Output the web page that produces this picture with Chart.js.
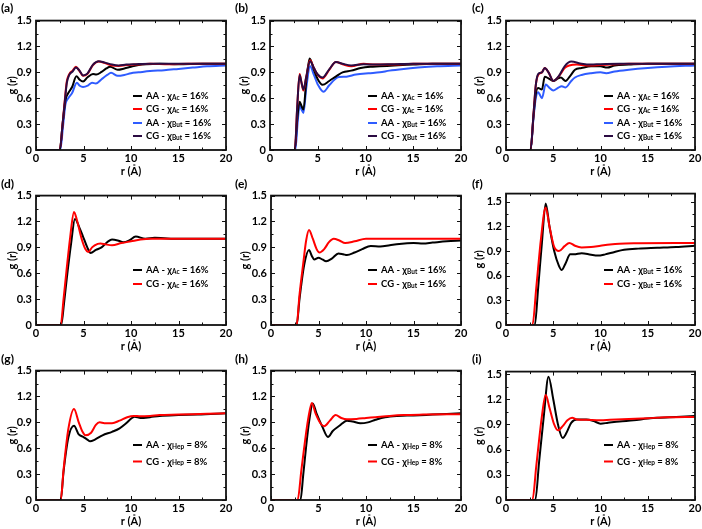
<!DOCTYPE html>
<html><head><meta charset="utf-8">
<script src="https://cdn.jsdelivr.net/npm/chart.js@4.4.1/dist/chart.umd.min.js"></script>
<style>
html,body{margin:0;padding:0;background:#fff;overflow:hidden;width:702px;height:529px}
#wrap{position:relative;width:702px;height:529px;overflow:hidden}
canvas{position:absolute}
.pl{position:absolute;font:bold 12px Lato,"Open Sans",sans-serif;line-height:12px;color:#000;white-space:nowrap}
</style></head><body><div id="wrap"></div>
<script>
// ---- axis ticks ----
const xTicks = [0, 5, 10, 15, 20];
const yTicks = [0, 0.3, 0.6, 0.9, 1.2, 1.5];
const panelLabels = ['(a)','(b)','(c)','(d)','(e)','(f)','(g)','(h)','(i)'];

// ---- panel (a) ----
const a_AAAc_r = [0, 2.5, 2.8, 3.1, 3.4, 3.8, 4.25, 4.6, 4.95, 5.4, 6.0, 6.35, 6.9, 7.4, 7.8, 8.6, 9.3, 10.0, 10.8, 11.6, 13, 15, 17.5, 20];
const a_AAAc_g = [0, 0, 0.3, 0.58, 0.66, 0.73, 0.855, 0.815, 0.795, 0.84, 0.88, 0.875, 0.905, 0.945, 0.965, 0.93, 0.945, 0.965, 0.985, 0.995, 1.0, 0.995, 1.0, 1.0];
const a_CGAc_r = [0, 2.5, 2.8, 3.05, 3.25, 3.5, 3.85, 4.2, 4.55, 4.95, 5.4, 6.0, 6.6, 7.2, 8.0, 8.7, 9.5, 10.5, 12, 14, 16, 18, 20];
const a_CGAc_g = [0, 0, 0.3, 0.6, 0.8, 0.88, 0.92, 0.965, 0.92, 0.86, 0.88, 0.985, 1.025, 1.01, 0.98, 0.975, 0.985, 0.99, 1.0, 0.995, 1.0, 1.0, 1.0];
const a_AABut_r = [0, 2.55, 2.85, 3.1, 3.4, 3.8, 4.3, 4.6, 4.95, 5.5, 5.9, 6.3, 6.9, 7.5, 7.9, 8.6, 9.3, 10.0, 10.8, 12, 13.5, 15, 16.5, 18, 20];
const a_AABut_g = [0, 0, 0.28, 0.53, 0.6, 0.66, 0.78, 0.745, 0.73, 0.75, 0.78, 0.77, 0.82, 0.87, 0.895, 0.86, 0.87, 0.89, 0.9, 0.915, 0.925, 0.94, 0.955, 0.97, 0.98];
const a_CGBut_r = [0, 2.5, 2.8, 3.05, 3.25, 3.5, 3.85, 4.2, 4.55, 4.95, 5.4, 6.0, 6.6, 7.2, 8.0, 8.7, 9.5, 10.5, 12, 14, 16, 18, 20];
const a_CGBut_g = [0, 0, 0.3, 0.58, 0.78, 0.87, 0.91, 0.955, 0.925, 0.865, 0.885, 0.99, 1.03, 1.015, 0.99, 0.98, 0.99, 0.995, 1.0, 1.0, 1.0, 1.0, 1.0];

// ---- panel (b) ----
const b_AAAc_r = [0, 2.6, 2.85, 3.1, 3.3, 3.5, 3.8, 4.15, 4.6, 5.0, 5.5, 6.2, 7.0, 7.6, 8.5, 9.5, 10.5, 11.5, 13, 15, 17, 20];
const b_AAAc_g = [0, 0, 0.35, 0.56, 0.51, 0.47, 0.8, 1.06, 0.93, 0.82, 0.755, 0.8, 0.86, 0.9, 0.92, 0.95, 0.965, 0.97, 0.98, 0.99, 1.0, 1.0];
const b_CGAc_r = [0, 2.6, 2.85, 3.1, 3.3, 3.5, 3.8, 4.2, 4.6, 5.0, 5.5, 6.2, 6.9, 7.6, 8.5, 9.8, 11, 13, 15, 20];
const b_CGAc_g = [0, 0, 0.5, 0.88, 0.78, 0.69, 0.85, 1.04, 0.95, 0.87, 0.83, 0.93, 1.02, 0.995, 0.97, 1.0, 0.99, 0.99, 1.0, 1.0];
const b_AABut_r = [0, 2.65, 2.9, 3.1, 3.3, 3.5, 3.8, 4.2, 4.6, 5.0, 5.6, 6.2, 6.8, 7.2, 8.0, 9.0, 10.3, 11.5, 12.5, 14, 15.5, 17.5, 20];
const b_AABut_g = [0, 0, 0.33, 0.52, 0.47, 0.43, 0.72, 0.97, 0.87, 0.76, 0.675, 0.75, 0.82, 0.845, 0.85, 0.875, 0.89, 0.9, 0.92, 0.94, 0.955, 0.97, 0.98];
const b_CGBut_r = [0, 2.6, 2.85, 3.1, 3.3, 3.5, 3.8, 4.2, 4.6, 5.0, 5.5, 6.2, 6.9, 7.6, 8.5, 9.8, 11, 13, 15, 20];
const b_CGBut_g = [0, 0, 0.5, 0.87, 0.78, 0.7, 0.85, 1.03, 0.95, 0.875, 0.84, 0.935, 1.02, 1.0, 0.98, 0.995, 0.99, 0.995, 1.0, 1.0];

// ---- panel (c) ----
const c_AAAc_r = [0, 2.6, 2.9, 3.15, 3.4, 3.8, 4.1, 4.5, 5.0, 5.5, 5.8, 6.3, 6.8, 7.3, 8.0, 9.0, 10.0, 10.7, 11.5, 13, 15, 20];
const c_AAAc_g = [0, 0, 0.38, 0.65, 0.72, 0.7, 0.85, 0.83, 0.8, 0.83, 0.84, 0.8, 0.86, 0.93, 0.95, 0.97, 0.97, 0.955, 0.98, 0.99, 1.0, 1.0];
const c_CGAc_r = [0, 2.6, 2.9, 3.15, 3.4, 3.8, 4.1, 4.5, 5.0, 5.7, 6.2, 6.7, 7.5, 8.5, 10, 11, 13, 20];
const c_CGAc_g = [0, 0, 0.4, 0.75, 0.87, 0.9, 0.95, 0.9, 0.8, 0.87, 0.95, 0.98, 0.99, 0.98, 0.985, 0.99, 1.0, 1.0];
const c_AABut_r = [0, 2.6, 2.9, 3.15, 3.4, 3.8, 4.2, 4.6, 5.0, 5.5, 5.9, 6.3, 6.9, 7.3, 8.0, 9.0, 10.0, 10.6, 11.5, 13, 15, 17, 20];
const c_AABut_g = [0, 0, 0.36, 0.6, 0.67, 0.6, 0.76, 0.72, 0.69, 0.72, 0.74, 0.725, 0.8, 0.84, 0.87, 0.89, 0.9, 0.89, 0.91, 0.93, 0.95, 0.965, 0.98];
const c_CGBut_r = [0, 2.6, 2.9, 3.15, 3.4, 3.8, 4.1, 4.5, 5.0, 5.6, 6.2, 6.9, 8.0, 9.0, 10, 12, 20];
const c_CGBut_g = [0, 0, 0.4, 0.75, 0.88, 0.9, 0.95, 0.9, 0.8, 0.86, 0.97, 1.025, 1.0, 0.99, 0.995, 1.0, 1.0];

// ---- panel (d) ----
const d_AAAc_r = [0, 2.65, 2.95, 3.25, 3.7, 4.1, 4.6, 4.9, 5.4, 5.75, 6.3, 6.9, 7.6, 8.0, 8.6, 9.2, 9.8, 10.5, 11.5, 12.5, 13.5, 15, 20];
const d_AAAc_g = [0, 0, 0.25, 0.55, 0.95, 1.23, 1.12, 1.04, 0.9, 0.835, 0.87, 0.9, 0.97, 0.99, 0.98, 0.96, 0.98, 1.025, 1.0, 1.01, 1.005, 1.0, 1.0];
const d_CGAc_r = [0, 2.6, 2.9, 3.2, 3.6, 4.0, 4.3, 4.8, 5.2, 5.5, 5.9, 6.5, 6.8, 7.3, 8.0, 9.0, 10.0, 11.0, 12, 20];
const d_CGAc_g = [0, 0, 0.3, 0.62, 1.02, 1.31, 1.22, 1.0, 0.88, 0.845, 0.9, 0.94, 0.945, 0.935, 0.925, 0.95, 0.97, 0.99, 1.0, 1.0];

// ---- panel (e) ----
const e_AABut_r = [0, 2.7, 3.0, 3.5, 4.0, 4.3, 4.55, 5.0, 5.4, 5.8, 6.4, 7.1, 7.6, 8.0, 8.8, 9.6, 10.5, 11.5, 12.5, 13.5, 15, 16, 17, 18.5, 20];
const e_AABut_g = [0, 0, 0.3, 0.7, 0.87, 0.8, 0.76, 0.78, 0.76, 0.74, 0.77, 0.83, 0.82, 0.81, 0.84, 0.88, 0.915, 0.91, 0.925, 0.94, 0.95, 0.945, 0.955, 0.97, 0.98];
const e_CGBut_r = [0, 2.7, 3.0, 3.4, 3.7, 4.0, 4.4, 4.8, 5.1, 5.6, 6.1, 6.6, 7.2, 7.8, 8.8, 10, 12, 20];
const e_CGBut_g = [0, 0, 0.35, 0.72, 0.98, 1.1, 1.0, 0.88, 0.84, 0.88, 0.96, 1.0, 0.98, 0.95, 0.97, 1.0, 1.0, 1.0];

// ---- panel (f) ----
const f_AABut_r = [0, 3.05, 3.4, 3.8, 4.2, 4.6, 5.1, 5.6, 5.9, 6.3, 6.8, 7.2, 8.0, 9.0, 9.7, 10.5, 11.5, 12.5, 14, 16, 18, 20];
const f_AABut_g = [0, 0, 0.45, 1.0, 1.48, 1.2, 0.9, 0.72, 0.67, 0.75, 0.86, 0.86, 0.875, 0.855, 0.845, 0.86, 0.89, 0.915, 0.93, 0.94, 0.95, 0.965];
const f_CGBut_r = [0, 2.8, 3.2, 3.7, 4.2, 4.6, 5.1, 5.6, 6.2, 6.7, 7.3, 8.0, 9.0, 10, 11, 12, 14, 20];
const f_CGBut_g = [0, 0, 0.45, 1.05, 1.43, 1.2, 0.95, 0.9, 0.96, 1.0, 0.965, 0.945, 0.95, 0.965, 0.98, 0.99, 0.995, 1.0];

// ---- panel (g) ----
const g_AAHep_r = [0, 2.6, 2.9, 3.4, 4.0, 4.5, 5.0, 5.4, 5.7, 6.2, 7.0, 8.0, 8.8, 9.4, 10.1, 10.4, 11, 12, 13, 15, 17, 20];
const g_AAHep_g = [0, 0, 0.33, 0.72, 0.86, 0.76, 0.73, 0.7, 0.68, 0.7, 0.75, 0.79, 0.83, 0.88, 0.95, 0.965, 0.95, 0.96, 0.975, 0.985, 0.99, 1.005];
const g_CGHep_r = [0, 2.6, 2.9, 3.4, 4.0, 4.5, 4.9, 5.2, 5.8, 6.3, 6.7, 7.2, 8.0, 8.8, 9.6, 10.3, 11, 12, 13, 15, 18, 20];
const g_CGHep_g = [0, 0, 0.35, 0.82, 1.055, 0.9, 0.79, 0.75, 0.78, 0.87, 0.9, 0.89, 0.89, 0.92, 0.96, 0.975, 0.97, 0.975, 0.985, 0.99, 1.0, 1.005];

// ---- panel (h) ----
const h_AAHep_r = [0, 3.1, 3.4, 3.7, 4.0, 4.4, 4.8, 5.4, 6.0, 6.5, 7.2, 8.0, 8.6, 9.4, 10.2, 11, 12, 13.3, 15, 17, 20];
const h_AAHep_g = [0, 0, 0.3, 0.62, 0.9, 1.12, 1.0, 0.85, 0.73, 0.8, 0.86, 0.92, 0.91, 0.89, 0.9, 0.93, 0.96, 0.975, 0.98, 0.99, 1.005];
const h_CGHep_r = [0, 2.8, 3.2, 3.6, 3.9, 4.3, 4.7, 5.2, 5.6, 6.2, 6.8, 7.4, 8.0, 9, 10, 11, 12.5, 14, 16, 20];
const h_CGHep_g = [0, 0, 0.35, 0.7, 0.93, 1.125, 1.0, 0.89, 0.855, 0.92, 0.985, 0.95, 0.935, 0.94, 0.95, 0.96, 0.975, 0.985, 0.99, 0.995];

// ---- panel (i) ----
const i_AAHep_r = [0, 3.1, 3.5, 4.0, 4.5, 5.0, 5.5, 6.0, 6.4, 6.9, 7.5, 8.5, 9.3, 10.0, 10.8, 12, 13.5, 15, 16, 18, 20];
const i_AAHep_g = [0, 0, 0.45, 1.0, 1.47, 1.2, 0.9, 0.74, 0.8, 0.92, 0.96, 0.96, 0.94, 0.91, 0.92, 0.935, 0.95, 0.97, 0.98, 0.99, 1.0];
const i_CGHep_r = [0, 2.8, 3.2, 3.8, 4.2, 4.6, 5.1, 5.5, 6.0, 6.5, 7.0, 7.5, 8.5, 10, 11, 13, 15, 17, 20];
const i_CGHep_g = [0, 0, 0.4, 1.0, 1.25, 1.1, 0.9, 0.83, 0.88, 0.95, 0.98, 0.96, 0.955, 0.95, 0.955, 0.965, 0.975, 0.985, 0.99];

// ---- legend texts ----
const L_AAAc = ['AA - χ', 'Ac', ' = 16%'];
const L_CGAc = ['CG - χ', 'Ac', ' = 16%'];
const L_AABut = ['AA - χ', 'But', ' = 16%'];
const L_CGBut = ['CG - χ', 'But', ' = 16%'];
const L_AAHep = ['AA - χ', 'Hep', ' = 8%'];
const L_CGHep = ['CG - χ', 'Hep', ' = 8%'];

// ---- styling ----
const FONT = 'Lato, "Open Sans", sans-serif';
const BLACK = '#000000', RED = '#ff0000', BLUE = '#2f5cff', PURPLE = '#2b0b42';

const wrap = document.getElementById('wrap');
function pts(r, g) { return r.map((v, k) => ({ x: v, y: g[k] })); }
function mids(arr) { const m = []; for (let k = 0; k < arr.length - 1; k++) m.push((arr[k] + arr[k + 1]) / 2); return m; }

const framePlugin = {
  id: 'frameTicks',
  afterDatasetsDraw(chart) {
    const { ctx, chartArea: a, scales: { x, y } } = chart;
    ctx.save();
    ctx.strokeStyle = '#111';
    ctx.lineWidth = 1;
    const seg = (x1, y1, x2, y2) => { ctx.beginPath(); ctx.moveTo(x1, y1); ctx.lineTo(x2, y2); ctx.stroke(); };
    const xs = [...xTicks.map(v => [v, 4]), ...mids(xTicks).map(v => [v, 2.5])];
    xs.forEach(([v, L]) => { const p = Math.round(x.getPixelForValue(v)) + 0.5; seg(p, a.bottom, p, a.bottom - L); seg(p, a.top, p, a.top + L); });
    const ys = [...yTicks.map(v => [v, 4]), ...mids(yTicks).map(v => [v, 2.5])];
    ys.forEach(([v, L]) => { if (v > y.max) return; const p = Math.round(y.getPixelForValue(v)) + 0.5; seg(a.left, p, a.left + L, p); seg(a.right, p, a.right - L, p); });
    ctx.lineWidth = 1.8;
    ctx.strokeRect(a.left, a.top, a.right - a.left, a.bottom - a.top);
    ctx.restore();
  }
};

function legendPlugin(cfg) {
  return {
    id: 'subLegend',
    afterDraw(chart) {
      const { ctx, chartArea: a } = chart;
      ctx.save();
      cfg.items.forEach((it, k) => {
        const yy = a.bottom + cfg.rows[k];
        const x0 = a.right + cfg.dx;
        ctx.strokeStyle = it.color; ctx.lineWidth = 2;
        ctx.beginPath(); ctx.moveTo(x0, yy); ctx.lineTo(x0 + 9, yy); ctx.stroke();
        let xx = x0 + 13;
        ctx.fillStyle = '#000'; ctx.textAlign = 'left'; ctx.textBaseline = 'middle';
        ctx.font = 'bold 9.5px ' + FONT;
        ctx.fillText(it.text[0], xx, yy); xx += ctx.measureText(it.text[0]).width;
        ctx.font = 'bold 6.5px ' + FONT;
        ctx.fillText(it.text[1], xx, yy + 1.5); xx += ctx.measureText(it.text[1]).width;
        ctx.font = 'bold 9.5px ' + FONT;
        ctx.fillText(it.text[2], xx, yy);
      });
      ctx.restore();
    }
  };
}

function panel(cfg) {
  const PT = 8, PR = 10, H = 28;
  const w = cfg.r - cfg.l + cfg.W + PR, h = cfg.b - cfg.t + PT + H;
  const c = document.createElement('canvas');
  c.width = w; c.height = h;
  c.style.left = (cfg.l - cfg.W) + 'px'; c.style.top = (cfg.t - PT) + 'px';
  c.style.width = w + 'px'; c.style.height = h + 'px';
  wrap.appendChild(c);
  const tickFont = { family: FONT, size: 11, weight: 'bold', lineHeight: 1.2 };
  new Chart(c, {
    type: 'line',
    data: {
      datasets: cfg.series.map(s => ({
        data: pts(s.r, s.g), borderColor: s.color, borderWidth: 2, pointRadius: 0,
        cubicInterpolationMode: 'monotone', fill: false, order: s.order
      }))
    },
    options: {
      responsive: false, animation: false, devicePixelRatio: 1,
      layout: { padding: { top: PT, right: PR, left: 0, bottom: 0 } },
      plugins: { legend: { display: false }, tooltip: { enabled: false } },
      scales: {
        x: {
          type: 'linear', min: 0, max: 20,
          afterBuildTicks: s => { s.ticks = xTicks.map(v => ({ value: v })); },
          afterFit: s => { s.height = H; },
          grid: { display: false, drawTicks: false }, border: { display: false },
          ticks: { padding: 2, color: '#000', font: tickFont, maxRotation: 0, autoSkip: false, callback: v => String(v) },
          title: { display: true, text: 'r (Å)', padding: 0, color: '#000', font: tickFont }
        },
        y: {
          type: 'linear', min: 0, max: cfg.yMax,
          afterBuildTicks: s => { s.ticks = yTicks.map(v => ({ value: v })); },
          afterFit: s => { s.width = cfg.W; },
          grid: { display: false, drawTicks: false }, border: { display: false },
          ticks: { padding: 4, color: '#000', font: tickFont, autoSkip: false, callback: v => String(v) },
          title: { display: true, text: 'g (r)', padding: 0, color: '#000', font: tickFont }
        }
      }
    },
    plugins: [framePlugin, legendPlugin(cfg.legend)]
  });
  const lab = document.createElement('div');
  lab.className = 'pl'; lab.textContent = cfg.label;
  lab.style.left = cfg.labX + 'px'; lab.style.top = (cfg.labY - 6) + 'px';
  wrap.appendChild(lab);
}

const rows4 = [-54, -41, -27, -14];
const leg4 = (dx) => ({ dx, rows: rows4, items: [
  { color: BLACK, text: L_AAAc }, { color: RED, text: L_CGAc }, { color: BLUE, text: L_AABut }, { color: PURPLE, text: L_CGBut }] });

panel({ label: panelLabels[0], labX: 1, labY: 8, l: 36, t: 18, r: 226, b: 150, W: 30, yMax: 1.5, legend: leg4(-93),
  series: [
    { r: a_AAAc_r, g: a_AAAc_g, color: BLACK, order: 2 },
    { r: a_CGAc_r, g: a_CGAc_g, color: RED, order: 1 },
    { r: a_AABut_r, g: a_AABut_g, color: BLUE, order: 3 },
    { r: a_CGBut_r, g: a_CGBut_g, color: PURPLE, order: 0 }] });
panel({ label: panelLabels[1], labX: 235, labY: 8, l: 270, t: 18, r: 461, b: 150, W: 32, yMax: 1.5, legend: leg4(-93),
  series: [
    { r: b_AAAc_r, g: b_AAAc_g, color: BLACK, order: 2 },
    { r: b_CGAc_r, g: b_CGAc_g, color: RED, order: 1 },
    { r: b_AABut_r, g: b_AABut_g, color: BLUE, order: 3 },
    { r: b_CGBut_r, g: b_CGBut_g, color: PURPLE, order: 0 }] });
panel({ label: panelLabels[2], labX: 472, labY: 8, l: 506, t: 18, r: 695, b: 150, W: 33, yMax: 1.5, legend: leg4(-91),
  series: [
    { r: c_AAAc_r, g: c_AAAc_g, color: BLACK, order: 2 },
    { r: c_CGAc_r, g: c_CGAc_g, color: RED, order: 1 },
    { r: c_AABut_r, g: c_AABut_g, color: BLUE, order: 3 },
    { r: c_CGBut_r, g: c_CGBut_g, color: PURPLE, order: 0 }] });

const rows2 = [-55, -41];
const rows3 = [-55, -38.5];
panel({ label: panelLabels[3], labX: 1, labY: 183.5, l: 36, t: 193, r: 226, b: 325, W: 30, yMax: 1.5,
  legend: { dx: -93, rows: rows2, items: [{ color: BLACK, text: L_AAAc }, { color: RED, text: L_CGAc }] },
  series: [{ r: d_AAAc_r, g: d_AAAc_g, color: BLACK, order: 1 }, { r: d_CGAc_r, g: d_CGAc_g, color: RED, order: 0 }] });
panel({ label: panelLabels[4], labX: 235, labY: 183.5, l: 271, t: 193, r: 461, b: 325, W: 32, yMax: 1.5,
  legend: { dx: -93, rows: rows2, items: [{ color: BLACK, text: L_AABut }, { color: RED, text: L_CGBut }] },
  series: [{ r: e_AABut_r, g: e_AABut_g, color: BLACK, order: 1 }, { r: e_CGBut_r, g: e_CGBut_g, color: RED, order: 0 }] });
panel({ label: panelLabels[5], labX: 472, labY: 183.5, l: 506, t: 191, r: 695, b: 325, W: 33, yMax: 1.6,
  legend: { dx: -91, rows: rows2, items: [{ color: BLACK, text: L_AABut }, { color: RED, text: L_CGBut }] },
  series: [{ r: f_AABut_r, g: f_AABut_g, color: BLACK, order: 1 }, { r: f_CGBut_r, g: f_CGBut_g, color: RED, order: 0 }] });

panel({ label: panelLabels[6], labX: 1, labY: 358.5, l: 36, t: 368, r: 226, b: 500, W: 30, yMax: 1.5,
  legend: { dx: -93, rows: rows3, items: [{ color: BLACK, text: L_AAHep }, { color: RED, text: L_CGHep }] },
  series: [{ r: g_AAHep_r, g: g_AAHep_g, color: BLACK, order: 1 }, { r: g_CGHep_r, g: g_CGHep_g, color: RED, order: 0 }] });
panel({ label: panelLabels[7], labX: 235, labY: 358.5, l: 271, t: 368, r: 461, b: 500, W: 32, yMax: 1.5,
  legend: { dx: -93, rows: rows3, items: [{ color: BLACK, text: L_AAHep }, { color: RED, text: L_CGHep }] },
  series: [{ r: h_AAHep_r, g: h_AAHep_g, color: BLACK, order: 1 }, { r: h_CGHep_r, g: h_CGHep_g, color: RED, order: 0 }] });
panel({ label: panelLabels[8], labX: 472, labY: 358.5, l: 506, t: 369, r: 695, b: 500, W: 33, yMax: 1.53,
  legend: { dx: -91, rows: rows3, items: [{ color: BLACK, text: L_AAHep }, { color: RED, text: L_CGHep }] },
  series: [{ r: i_AAHep_r, g: i_AAHep_g, color: BLACK, order: 1 }, { r: i_CGHep_r, g: i_CGHep_g, color: RED, order: 0 }] });
</script>
</body></html>
